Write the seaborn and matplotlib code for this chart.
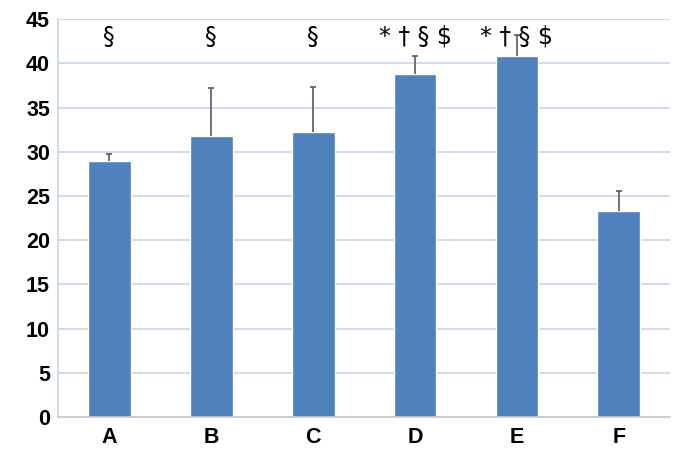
import matplotlib
matplotlib.use("Agg")
import matplotlib.pyplot as plt
import seaborn as sns
import pandas as pd
import numpy as np

groups = ["A", "B", "C", "D", "E", "F"]
means = [29.0, 31.8, 32.2, 38.8, 40.8, 23.3]
errors = [0.8, 5.4, 5.1, 2.0, 2.4, 2.3]
marks = ["§", "§", "§", "* † § $", "* † § $", ""]
y_ticks = [0, 5, 10, 15, 20, 25, 30, 35, 40, 45]

sns.set_theme(style="white")
plt.rcParams["font.family"] = ["Liberation Sans", "DejaVu Sans"]

df = pd.DataFrame({"group": groups, "mean": means})

fig, ax = plt.subplots(figsize=(6.78, 4.53), dpi=100)
fig.subplots_adjust(left=0.086, right=0.988, top=0.958, bottom=0.079)

grid_color = "#c6d6ec"
ax.set_axisbelow(True)
ax.yaxis.grid(True, color=grid_color, linewidth=1.2)

sns.barplot(data=df, x="group", y="mean", color="#4f81bd", saturation=1,
            width=0.42, ax=ax, errorbar=None)

# upper-only error bars with a cap at the top end
x = np.arange(len(groups))
tops = np.array(means) + np.array(errors)
ax.vlines(x, means, tops, color="#5a5a5a", linewidth=1.2, zorder=3)
ax.plot(x, tops, linestyle="none", marker="_", markersize=5,
        markeredgewidth=1.2, color="#5a5a5a", zorder=3)

for xi, m in zip(x, marks):
    if m:
        ax.text(xi, 43.0, m, ha="center", va="center", fontsize=17,
                family=["DejaVu Sans"], color="black")

ax.set_ylim(0, 45)
ax.set_xlim(-0.5, len(groups) - 0.5)
ax.set_yticks(y_ticks)
ax.set_xlabel("")
ax.set_ylabel("")
for lbl in ax.get_xticklabels() + ax.get_yticklabels():
    lbl.set_fontweight("bold")
    lbl.set_fontsize(15.5)
    lbl.set_color("black")

for side in ["top", "right"]:
    ax.spines[side].set_visible(False)
ax.spines["left"].set_color(grid_color)
ax.spines["left"].set_linewidth(1.2)
ax.spines["bottom"].set_color("#c8c8c8")
ax.spines["bottom"].set_linewidth(1.2)

ax.set_xticks(np.arange(-0.5, len(groups), 1.0), minor=True)
ax.tick_params(axis="x", which="minor", length=5, color="#c8c8c8", width=1)
ax.tick_params(axis="x", which="major", length=0, pad=7)
ax.tick_params(axis="y", length=0, pad=6)

fig.savefig("out.png", dpi=100)
